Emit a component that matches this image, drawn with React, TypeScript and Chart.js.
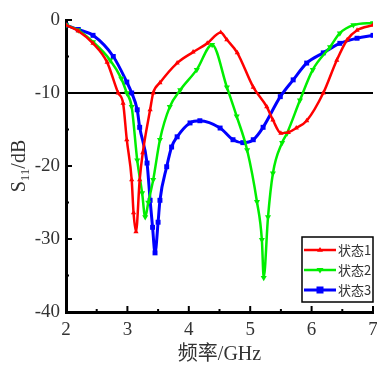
import React, { useEffect, useRef } from 'react';
import { Chart, registerables } from 'chart.js';
Chart.register(...registerables);

const seriesNames = ['状态1', '状态2', '状态3'];

const freq1 = [2.0, 2.2, 2.44, 2.67, 2.85, 2.93, 2.99, 3.07, 3.1, 3.14, 3.2, 3.25, 3.37, 3.42, 3.53, 3.81, 4.07, 4.3, 4.52, 4.62, 4.79, 5.05, 5.27, 5.37, 5.5, 5.62, 5.75, 5.92, 6.19, 6.41, 6.58, 6.74, 7.0];
const s11a = [-0.7, -1.5, -3.2, -5.8, -10, -11.4, -16.4, -21.9, -26.4, -29.0, -21.9, -18.2, -12.3, -10, -8.6, -5.9, -4.4, -3.2, -1.7, -2.7, -4.5, -9.2, -11.9, -13.7, -15.5, -15.4, -14.8, -13.8, -10, -5.5, -2.7, -1.4, -0.7];

const freq2 = [2.0, 2.2, 2.44, 2.72, 2.9, 2.99, 3.07, 3.16, 3.24, 3.29, 3.34, 3.42, 3.53, 3.69, 3.86, 4.13, 4.38, 4.62, 4.78, 4.95, 5.11, 5.19, 5.22, 5.29, 5.37, 5.52, 5.6, 5.81, 6.02, 6.3, 6.46, 6.68, 7.0];
const s11b = [-0.7, -1.4, -3.0, -5.5, -8.0, -10, -11.9, -19.2, -23.7, -27.0, -25.0, -21.9, -16.4, -11.9, -9.6, -6.8, -3.4, -9.2, -13.2, -17.8, -24.9, -30.1, -35.3, -27.0, -21.0, -16.8, -15.5, -11.0, -6.8, -3.7, -1.8, -0.7, -0.4];

const freq3 = [2.0, 2.2, 2.44, 2.77, 2.99, 3.07, 3.16, 3.2, 3.32, 3.37, 3.41, 3.45, 3.5, 3.53, 3.64, 3.72, 3.81, 4.02, 4.18, 4.51, 4.72, 4.88, 5.05, 5.21, 5.49, 5.7, 5.92, 6.19, 6.46, 6.74, 7.0];
const s11c = [-0.7, -1.3, -2.1, -5.0, -8.5, -10, -12.3, -14.7, -19.6, -24.7, -28.4, -31.9, -27.7, -24.7, -20.1, -17.4, -16.0, -14.1, -13.8, -14.8, -16.4, -16.8, -16.4, -14.7, -10.5, -8.2, -5.9, -4.5, -3.2, -2.5, -2.1];

const xTicks = [2, 3, 4, 5, 6, 7];
const yTicks = [0, -10, -20, -30, -40];

const colors = ['#ff0000', '#00ee00', '#0000ff'];

const toPts = (xs: number[], ys: number[]) => xs.map((x, i) => ({ x, y: ys[i] }));

const SERIF = "'Liberation Serif', 'Times New Roman', serif";
const MIXED = "'Liberation Serif', 'Noto Sans CJK SC', serif";

export default function App() {
  const ref = useRef<HTMLCanvasElement | null>(null);
  useEffect(() => {
    if (!ref.current) return;
    const decor = {
      id: 'decor',
      afterDraw(chart: any) {
        const ctx = chart.ctx as CanvasRenderingContext2D;
        const xs = chart.scales.x;
        const ys = chart.scales.y;
        const area = chart.chartArea;
        ctx.save();
        ctx.strokeStyle = '#000';
        ctx.lineWidth = 2;
        for (let v = 2; v <= 7.001; v += 0.5) {
          const px = xs.getPixelForValue(v);
          const len = Math.abs(v - Math.round(v)) < 0.01 ? 6 : 3;
          ctx.beginPath();
          ctx.moveTo(px, area.bottom);
          ctx.lineTo(px, area.bottom - len);
          ctx.stroke();
        }
        for (let v = 0; v >= -40; v -= 5) {
          const py = ys.getPixelForValue(v);
          const len = v % 10 === 0 ? 6 : 3;
          ctx.beginPath();
          ctx.moveTo(area.left, py);
          ctx.lineTo(area.left + len, py);
          ctx.stroke();
        }
        ctx.fillStyle = '#333';
        ctx.translate(20, (area.top + area.bottom) / 2);
        ctx.rotate(-Math.PI / 2);
        ctx.textBaseline = 'middle';
        ctx.textAlign = 'left';
        const big = `20px ${SERIF}`;
        const small = `13px ${SERIF}`;
        ctx.font = big;
        const wS = ctx.measureText('S').width;
        const wD = ctx.measureText('/dB').width;
        ctx.font = small;
        const w11 = ctx.measureText('11').width;
        let x0 = -(wS + w11 + wD) / 2;
        ctx.font = big;
        ctx.fillText('S', x0, 0);
        x0 += wS;
        ctx.font = small;
        ctx.fillText('11', x0, 6);
        x0 += w11;
        ctx.font = big;
        ctx.fillText('/dB', x0, 0);
        ctx.restore();

        ctx.save();
        const bx = 302, by = 237, bw = 71, bh = 65;
        ctx.fillStyle = '#fff';
        ctx.fillRect(bx, by, bw, bh);
        ctx.strokeStyle = '#000';
        ctx.lineWidth = 1.5;
        ctx.strokeRect(bx, by, bw, bh);
        const rows = [250, 270, 290];
        chart.data.datasets.forEach((ds: any, i: number) => {
          const y = rows[i];
          ctx.strokeStyle = ds.borderColor;
          ctx.lineWidth = ds.borderWidth;
          ctx.beginPath();
          ctx.moveTo(bx + 2, y);
          ctx.lineTo(bx + 34, y);
          ctx.stroke();
          ctx.fillStyle = ds.borderColor;
          const cx = bx + 18;
          const r = ds.pointRadius;
          ctx.beginPath();
          if (ds.pointStyle === 'rect') {
            ctx.rect(cx - r, y - r, 2 * r, 2 * r);
          } else if (ds.pointRotation === 180) {
            ctx.moveTo(cx - r, y - r * 0.6);
            ctx.lineTo(cx + r, y - r * 0.6);
            ctx.lineTo(cx, y + r);
          } else {
            ctx.moveTo(cx - r, y + r * 0.6);
            ctx.lineTo(cx + r, y + r * 0.6);
            ctx.lineTo(cx, y - r);
          }
          ctx.closePath();
          ctx.fill();
          ctx.fillStyle = '#333';
          ctx.font = "13px 'Noto Sans CJK SC', sans-serif";
          ctx.textBaseline = 'middle';
          ctx.textAlign = 'left';
          ctx.fillText(ds.label, bx + 36, y);
        });
        ctx.restore();
      },
    };

    const mk = (i: number, xs: number[], ys: number[], style: string, rot: number, r: number, w: number) => ({
      label: seriesNames[i],
      data: toPts(xs, ys),
      borderColor: colors[i],
      backgroundColor: colors[i],
      borderWidth: w,
      pointStyle: style,
      pointRotation: rot,
      pointRadius: r,
      pointBorderWidth: 0,
      cubicInterpolationMode: 'monotone',
    });

    const chart = new Chart(ref.current, {
      type: 'line',
      data: {
        datasets: [
          mk(0, freq1, s11a, 'triangle', 0, 3, 2.5),
          mk(1, freq2, s11b, 'triangle', 180, 3.5, 2.5),
          mk(2, freq3, s11c, 'rect', 0, 3.5, 3),
        ] as any,
      },
      options: {
        responsive: false,
        animation: false,
        layout: { padding: { top: 20, right: 4, left: 0, bottom: 0 } },
        plugins: { legend: { display: false }, tooltip: { enabled: false } },
        scales: {
          x: {
            type: 'linear',
            min: 2,
            max: 7,
            afterFit: (s: any) => { s.height = 55; s.paddingRight = 0; s.paddingLeft = 0; },
            afterBuildTicks: (s: any) => { s.ticks = xTicks.map((v) => ({ value: v })); },
            ticks: { color: '#333', font: { family: SERIF, size: 19 }, padding: 7, maxRotation: 0 },
            grid: { display: false, drawTicks: false },
            border: { display: true, color: '#000', width: 3 },
            title: { display: true, text: '频率/GHz', color: '#333', font: { family: MIXED, size: 20 }, padding: { top: 0, bottom: 0 } },
          },
          y: {
            type: 'linear',
            min: -40,
            max: 0,
            afterFit: (s: any) => { s.width = 66; },
            afterBuildTicks: (s: any) => { s.ticks = yTicks.map((v) => ({ value: v })); },
            ticks: { color: '#333', font: { family: SERIF, size: 19 }, padding: 6 },
            grid: {
              drawTicks: false,
              color: (c: any) => (c.tick && c.tick.value === -10 ? '#000' : 'rgba(0,0,0,0)'),
              lineWidth: 2,
            },
            border: { display: true, color: '#000', width: 3 },
          },
        },
      } as any,
      plugins: [decor],
    });
    return () => chart.destroy();
  }, []);
  return (
    <div style={{ position: 'fixed', left: 0, top: 0, width: 377, height: 367, background: '#fff' }}>
      <canvas ref={ref} width={377} height={367} />
    </div>
  );
}
